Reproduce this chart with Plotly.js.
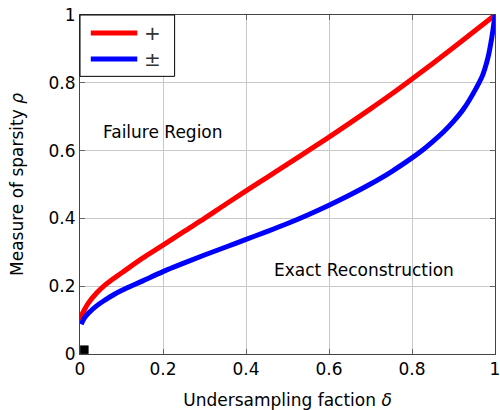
<!DOCTYPE html>
<html>
<head>
<meta charset="utf-8">
<script src="https://cdn.plot.ly/plotly-3.0.1.min.js"></script>
<style>html,body{margin:0;padding:0;background:#fff;}</style>
</head>
<body>
<div id="chart" style="width:500px;height:410px;"></div>
<script>
// Nonnegative (+) phase transition curve
const deltaPos = [0, 0.005, 0.01, 0.02, 0.04, 0.06, 0.08, 0.1, 0.15, 0.2, 0.25, 0.3, 0.35, 0.4, 0.45, 0.5, 0.55, 0.6, 0.65, 0.7, 0.75, 0.8, 0.85, 0.9, 0.95, 1.0];
const rhoPos   = [0.10, 0.117, 0.129, 0.15, 0.18, 0.203, 0.222, 0.239, 0.282, 0.321, 0.361, 0.40, 0.441, 0.481, 0.5205, 0.56, 0.60, 0.64, 0.681, 0.723, 0.766, 0.811, 0.857, 0.904, 0.952, 1.0];
// Signed (±) phase transition curve
const deltaPm = [0.003, 0.01, 0.02, 0.04, 0.06, 0.08, 0.1, 0.15, 0.2, 0.25, 0.3, 0.35, 0.4, 0.45, 0.5, 0.55, 0.6, 0.65, 0.7, 0.75, 0.8, 0.825, 0.85, 0.875, 0.9, 0.925, 0.95, 0.97, 0.98, 0.985, 0.99, 0.995, 1.0];
const rhoPm   = [0.088, 0.105, 0.12, 0.142, 0.159, 0.174, 0.187, 0.215, 0.243, 0.268, 0.292, 0.315, 0.338, 0.361, 0.385, 0.411, 0.439, 0.469, 0.5015, 0.5375, 0.5785, 0.601, 0.6265, 0.654, 0.686, 0.724, 0.774, 0.822, 0.86, 0.885, 0.917, 0.955, 1.0];
// small black marker near origin
const markX = [0.0105];
const markY = [0.0128];
const seriesNames = ['+', '±'];
const seriesColors = ['#ff0000', '#0000ff'];
const tickVals = [0, 0.2, 0.4, 0.6, 0.8, 1];
const tickText = ['0', '0.2', '0.4', '0.6', '0.8', '1'];

const FONT = 'DejaVu Sans, sans-serif';

const traces = [
  {x: deltaPos, y: rhoPos, mode: 'lines', name: seriesNames[0], showlegend: false,
   line: {color: seriesColors[0], width: 5, shape: 'spline', smoothing: 1}},
  {x: deltaPm, y: rhoPm, mode: 'lines', name: seriesNames[1], showlegend: false,
   line: {color: seriesColors[1], width: 5, shape: 'spline', smoothing: 1}},
  {x: markX, y: markY, mode: 'markers', showlegend: false,
   marker: {symbol: 'square', size: 8.5, color: '#000000'}}
];

const axisCommon = {
  range: [0, 1],
  tickvals: tickVals,
  ticktext: tickText,
  showgrid: true,
  gridcolor: '#c8c8c8',
  gridwidth: 1,
  zeroline: false,
  showline: true,
  linecolor: '#444444',
  linewidth: 1,
  mirror: 'ticks',
  ticks: 'inside',
  ticklen: 5,
  tickcolor: '#666666',
  ticklabeloverflow: 'allow',
  tickfont: {family: FONT, size: 17, color: '#000'}
};

// Legend box drawn in paper coordinates (layout decoration)
const legendBox = {x0: 0, x1: 0.228, y0: 0.819, y1: 1.0};
const legendLineX = [0.026, 0.138];
const legendRowY = [0.947, 0.870];
const legendTextX = 0.1735;

const shapes = [
  {type: 'rect', xref: 'paper', yref: 'paper', layer: 'above',
   x0: legendBox.x0, x1: legendBox.x1, y0: legendBox.y0, y1: legendBox.y1,
   fillcolor: '#ffffff', line: {color: '#000', width: 1}}
];
const annotations = [
  {x: 0.2, y: 0.655, xref: 'x', yref: 'y', text: 'Failure Region', showarrow: false,
   font: {family: FONT, size: 17, color: '#000'}},
  {x: 0.685, y: 0.248, xref: 'x', yref: 'y', text: 'Exact Reconstruction', showarrow: false,
   font: {family: FONT, size: 17, color: '#000'}}
];
seriesNames.forEach((nm, i) => {
  shapes.push({type: 'line', xref: 'paper', yref: 'paper', layer: 'above',
    x0: legendLineX[0], x1: legendLineX[1], y0: legendRowY[i], y1: legendRowY[i],
    line: {color: seriesColors[i], width: 5}});
  annotations.push({x: legendTextX, y: legendRowY[i], xref: 'paper', yref: 'paper',
    text: nm, showarrow: false, xanchor: 'center', yanchor: 'middle',
    font: {family: FONT, size: 20, color: '#333'}});
});

const layout = {
  width: 500, height: 410,
  margin: {l: 80, r: 5, t: 15, b: 56},
  paper_bgcolor: '#fff', plot_bgcolor: '#fff',
  font: {family: FONT, color: '#000'},
  xaxis: Object.assign({}, axisCommon, {
    title: {text: 'Undersampling faction <i>δ</i>', font: {family: FONT, size: 17}, standoff: 23}
  }),
  yaxis: Object.assign({}, axisCommon, {
    title: {text: 'Measure of sparsity <i>ρ</i>', font: {family: FONT, size: 17}, standoff: 20}
  }),
  showlegend: false,
  shapes: shapes,
  annotations: annotations
};

Plotly.newPlot('chart', traces, layout, {displayModeBar: false, staticPlot: true});
</script>
</body>
</html>
